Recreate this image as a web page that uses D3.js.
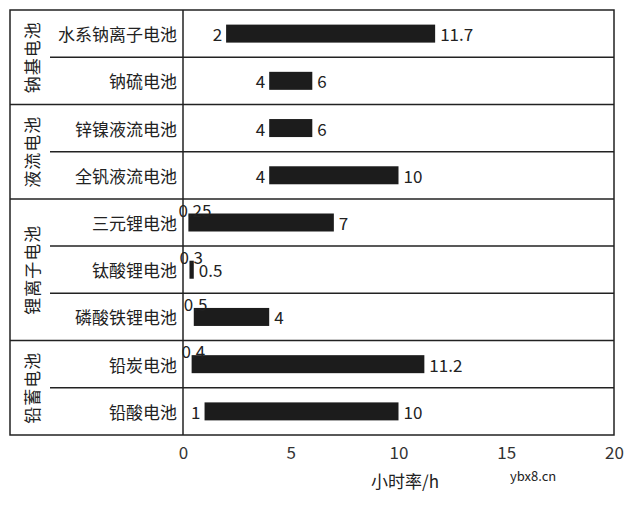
<!DOCTYPE html>
<html><head><meta charset="utf-8">
<script src="https://cdn.jsdelivr.net/npm/d3@7"></script>
<style>body{margin:0;background:#fff}text{font-family:"Noto Sans CJK SC",sans-serif;fill:#222}</style>
</head><body><div class="container"></div>
<script>
var categories = ["水系钠离子电池","钠硫电池","锌镍液流电池","全钒液流电池","三元锂电池","钛酸锂电池","磷酸铁锂电池","铅炭电池","铅酸电池"];
var minValues = [2,4,4,4,0.25,0.3,0.5,0.4,1];
var maxValues = [11.7,6,6,10,7,0.5,4,11.2,10];
var groups = [{name:"钠基电池",start:0,n:2},{name:"液流电池",start:2,n:2},{name:"锂离子电池",start:4,n:3},{name:"铅蓄电池",start:7,n:2}];
var xTicks = [0,5,10,15,20];

var svg = d3.select('.container').append("svg").attr("width",636).attr("height",506);
var mLeft = 183, mRight = 614, mTop = 10, mBottom = 435, outer = 10, inner = 50;

var x = d3.scaleLinear().domain([0,20]).range([mLeft,mRight]);
var y = d3.scaleBand().domain(categories).range([mTop,mBottom]);

// row separators
categories.forEach(function (c,i) {
	if (i === 0) return;
	var isGroup = groups.some(function (g) { return g.start === i; });
	svg.append("line").attr("x1", isGroup ? outer : inner).attr("x2", mRight)
		.attr("y1", y(c)).attr("y2", y(c)).attr("stroke","#222").attr("stroke-width",1.5);
});
svg.append("rect").attr("x",outer).attr("y",mTop).attr("width",mRight-outer).attr("height",mBottom-mTop)
	.attr("fill","none").attr("stroke","#222").attr("stroke-width",1.5);
svg.append("line").attr("x1",mLeft).attr("x2",mLeft).attr("y1",mTop).attr("y2",mBottom).attr("stroke","#222").attr("stroke-width",1.5);

// group labels
groups.forEach(function (g) {
	var cy = y(categories[g.start]) + g.n*y.bandwidth()/2;
	svg.append("text").attr("transform","translate(31,"+cy+") rotate(-90)")
		.attr("text-anchor","middle").attr("dominant-baseline","central")
		.attr("font-size",17).attr("letter-spacing",1).text(g.name);
});

// category labels
svg.selectAll(".cat").data(categories).enter().append("text")
	.attr("x", mLeft-6).attr("y", function (d) { return y(d)+y.bandwidth()/2; })
	.attr("text-anchor","end").attr("dominant-baseline","central")
	.attr("font-size",17).text(function (d) { return d; });

// bars
var bh = 18;
svg.selectAll(".bar").data(categories).enter().append("rect")
	.attr("x", function (d,i) { return x(minValues[i]); })
	.attr("width", function (d,i) { return x(maxValues[i]) - x(minValues[i]); })
	.attr("y", function (d) { return y(d)+y.bandwidth()/2-bh/2; })
	.attr("height", bh).attr("fill","#1c1c1c");

// value labels
categories.forEach(function (c,i) {
	var cy = y(c)+y.bandwidth()/2;
	if (minValues[i] >= 1) {
		svg.append("text").attr("x", x(minValues[i])-4).attr("y", cy).attr("text-anchor","end")
			.attr("dominant-baseline","central").attr("font-size",17).text(minValues[i]);
	} else {
		svg.append("text").attr("x", x(minValues[i])-10).attr("y", cy-bh/2+3)
			.attr("font-size",17).text(minValues[i]);
	}
	svg.append("text").attr("x", x(maxValues[i])+5).attr("y", cy)
		.attr("dominant-baseline","central").attr("font-size",17).text(maxValues[i]);
});

// x axis
var axis = svg.append("g").attr("transform","translate(0,"+mBottom+")")
	.call(d3.axisBottom(x).tickValues(xTicks).tickSize(0).tickPadding(12));
axis.select(".domain").remove();
axis.selectAll("text").attr("font-size",17).style("fill","#333");

svg.append("text").attr("x",405).attr("y",488).attr("text-anchor","middle").attr("font-size",17).text("小时率/h");
svg.append("text").attr("x",510).attr("y",481).attr("font-size",13).text("ybx8.cn");
</script></body></html>
